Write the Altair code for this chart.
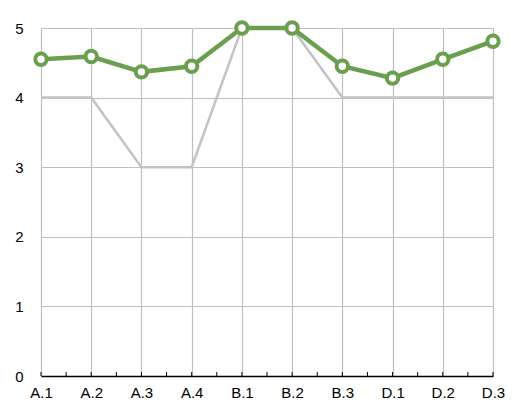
import altair as alt
import pandas as pd

categories = ["A.1", "A.2", "A.3", "A.4", "B.1", "B.2", "B.3", "D.1", "D.2", "D.3"]
green_values = [4.55, 4.59, 4.37, 4.45, 5.0, 5.0, 4.45, 4.28, 4.55, 4.81]
gray_values = [4, 4, 3, 3, 5, 5, 4, 4, 4, 4]
y_ticks = [0, 1, 2, 3, 4, 5]

df = pd.DataFrame({
    "idx": list(range(len(categories))),
    "cat": categories,
    "green": green_values,
    "gray": gray_values,
})

label_arr = "[" + ",".join("'" + c + "'" for c in categories) + "]"
half_ticks = [i / 2 for i in range(0, 2 * (len(categories) - 1) + 1)]
tick_df = pd.DataFrame({"pos": half_ticks})

x_scale = alt.Scale(domain=[0, len(categories) - 1], nice=False, zero=False)
x_enc = alt.X(
    "idx:Q",
    scale=x_scale,
    axis=alt.Axis(
        title=None,
        values=list(range(len(categories))),
        labelExpr=label_arr + "[datum.value]",
        labelFont="Liberation Sans",
        labelFontSize=15,
        labelColor="#000000",
        labelPadding=9,
        labelOverlap=False,
        labelFlush=False,
        domainColor="#000000",
        domainWidth=1.3,
        ticks=False,
        grid=True,
        gridColor="#bfbfbf",
        gridWidth=1.2,
    ),
)

y_scale = alt.Scale(domain=[0, 5], nice=False)
y_axis = alt.Axis(
    title=None,
    values=y_ticks,
    format="d",
    labelFont="Liberation Sans",
    labelFontSize=15,
    labelColor="#000000",
    labelPadding=18,
    domain=False,
    ticks=False,
    grid=True,
    gridColor="#bfbfbf",
    gridWidth=1.2,
)

base = alt.Chart(df)

gray_line = base.mark_line(color="#c3c3c3", strokeWidth=2.5).encode(
    x=x_enc, y=alt.Y("gray:Q", scale=y_scale, axis=y_axis)
)
green_line = base.mark_line(color="#6a9f4f", strokeWidth=4.5).encode(
    x=x_enc, y=alt.Y("green:Q", scale=y_scale)
)
green_pts = base.mark_point(
    shape="circle", filled=True, fill="#ffffff", stroke="#6a9f4f",
    strokeWidth=4, size=130, opacity=1
).encode(x=x_enc, y=alt.Y("green:Q", scale=y_scale))

axis_ticks = alt.Chart(tick_df).mark_tick(
    orient="vertical", color="#000000", thickness=1, size=4, yOffset=-2, opacity=1
).encode(
    x=alt.X("pos:Q", scale=x_scale),
    y=alt.Y(datum=0, scale=y_scale),
)

chart = (
    alt.layer(gray_line, green_line, green_pts, axis_ticks)
    .properties(
        width=452,
        height=348,
        autosize=alt.AutoSizeParams(type="none"),
        padding={"left": 33, "top": 20, "right": 14, "bottom": 28},
    )
    .configure_view(stroke=None)
    .configure(background="#ffffff")
)

chart.save("out.html", embed_options={"renderer": "svg", "actions": False})
